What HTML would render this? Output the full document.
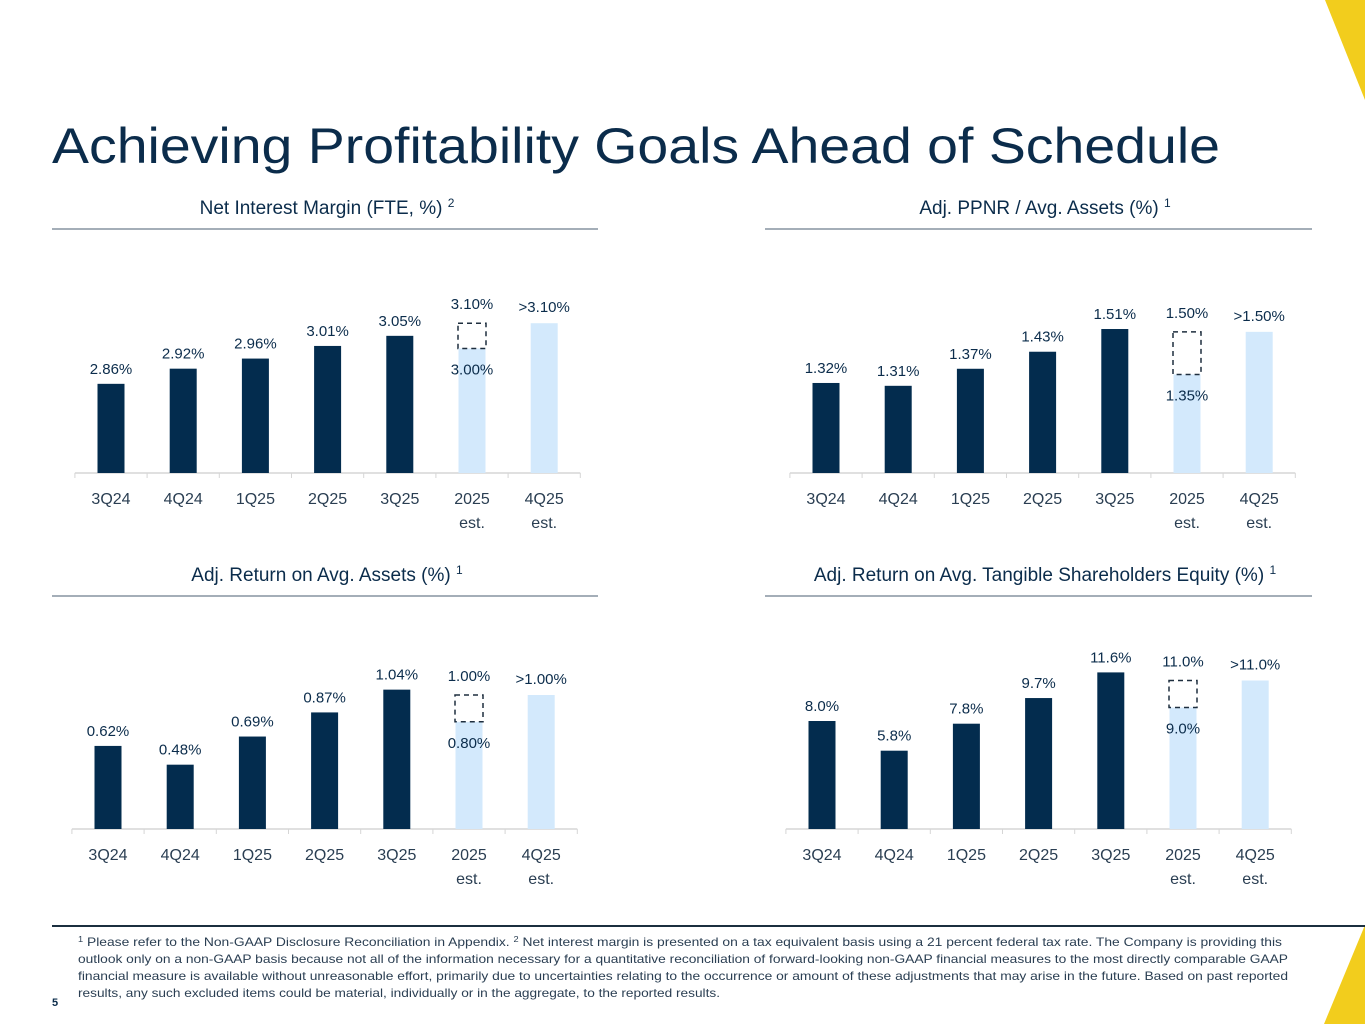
<!DOCTYPE html>
<html><head><meta charset="utf-8"><style>
body{margin:0;background:#fff;}
svg{display:block;font-family:"Liberation Sans",sans-serif;}
</style></head><body>
<svg id="s" width="1365" height="1024" viewBox="0 0 1365 1024" xmlns="http://www.w3.org/2000/svg">
<polygon points="1325,0 1365,0 1365,100" fill="#f2cd1d"/>
<polygon points="1324,1024 1365,1024 1365,925" fill="#f2cd1d"/>
<text x="52" y="163" font-size="50" fill="#0b2c4b" textLength="1168" lengthAdjust="spacingAndGlyphs">Achieving Profitability Goals Ahead of Schedule</text>
<line x1="52" y1="926" x2="1365" y2="926" stroke="#1b2f3f" stroke-width="2"/>
<g font-size="12" fill="#2a3e52">
<text x="78" y="946" textLength="1204" lengthAdjust="spacingAndGlyphs"><tspan font-size="8" dy="-4">1</tspan><tspan dy="4"> Please refer to the Non-GAAP Disclosure Reconciliation in Appendix. </tspan><tspan font-size="8" dy="-4">2</tspan><tspan dy="4"> Net interest margin is presented on a tax equivalent basis using a 21 percent federal tax rate.  The Company is providing this</tspan></text>
<text x="78" y="963" textLength="1210" lengthAdjust="spacingAndGlyphs">outlook only on a non-GAAP basis because not all of the information necessary for a quantitative reconciliation of forward-looking non-GAAP financial measures to the most directly comparable GAAP</text>
<text x="78" y="980" textLength="1210" lengthAdjust="spacingAndGlyphs">financial measure is available without unreasonable effort, primarily due to uncertainties relating to the occurrence or amount of these adjustments that may arise in the future. Based on past reported</text>
<text x="78" y="997" textLength="642" lengthAdjust="spacingAndGlyphs">results, any such excluded items could be material, individually or in the aggregate, to the reported results.</text>
</g>
<text x="52" y="1006" font-size="11" font-weight="bold" fill="#0b2c4b">5</text>
</svg>
<script>
const categories = ["3Q24","4Q24","1Q25","2Q25","3Q25","2025|est.","4Q25|est."];
const nimValues = [2.86,2.92,2.96,3.01,3.05,3.00,3.10];
const nimRangeHigh = 3.10;
const nimLabels = ["2.86%","2.92%","2.96%","3.01%","3.05%","3.00%",">3.10%"];
const nimHighLabel = "3.10%";
const ppnrValues = [1.32,1.31,1.37,1.43,1.51,1.35,1.50];
const ppnrRangeHigh = 1.50;
const ppnrLabels = ["1.32%","1.31%","1.37%","1.43%","1.51%","1.35%",">1.50%"];
const ppnrHighLabel = "1.50%";
const roaValues = [0.62,0.48,0.69,0.87,1.04,0.80,1.00];
const roaRangeHigh = 1.00;
const roaLabels = ["0.62%","0.48%","0.69%","0.87%","1.04%","0.80%",">1.00%"];
const roaHighLabel = "1.00%";
const roteValues = [8.0,5.8,7.8,9.7,11.6,9.0,11.0];
const roteRangeHigh = 11.0;
const roteLabels = ["8.0%","5.8%","7.8%","9.7%","11.6%","9.0%",">11.0%"];
const roteHighLabel = "11.0%";

const NS="http://www.w3.org/2000/svg";
const svg=document.getElementById('s');
function mk(tag,attrs,parent,txt){const e=document.createElementNS(NS,tag);for(const k in attrs)e.setAttribute(k,attrs[k]);if(txt!==undefined)e.textContent=txt;(parent||svg).appendChild(e);return e;}

function chart(cfg){
  const g=mk('g',{});
  
  
  const t=mk('text',{x:cfg.cx,y:cfg.titleY,'font-size':19,fill:'#0b2c4b','text-anchor':'middle'},g);
  
  
  t.textContent=cfg.title+' ';
  mk('tspan',{'font-size':12,dy:-7},t,cfg.note);
  const rule=mk('line',{x1:cfg.rx1,x2:cfg.rx2,y1:cfg.titleY+15,y2:cfg.titleY+15,stroke:'#4a5d70','stroke-width':1},g);
  
  
  const step=72.2, n=categories.length;
  const xc=i=>cfg.x0+i*step;
  const yv=v=>cfg.base-cfg.scale*(v-cfg.min);
  const ax=mk('line',{x1:xc(0)-step/2,x2:xc(n-1)+step/2,y1:cfg.base,y2:cfg.base,stroke:'#d6d6d6','stroke-width':1.5},g);
  
  
  for(let i=0;i<=n;i++){
    const tk=mk('line',{x1:xc(0)-step/2+i*step,x2:xc(0)-step/2+i*step,y1:cfg.base,y2:cfg.base+5,stroke:'#d6d6d6','stroke-width':1},g);
    
    
  }
  cfg.values.forEach((v,i)=>{
    const top=yv(v);
    const b=mk('rect',{x:xc(i)-13.5,y:top,width:27,height:cfg.base-top,fill:i>=5?'#d3e9fc':'#032c4e'},g);
    
    
    let ly=top-10;
    if(i===5){
      const hi=yv(cfg.high);
      const d=mk('rect',{x:xc(i)-14,y:hi,width:28,height:top-hi,fill:'none',stroke:'#1e2e3e','stroke-width':1.5,'stroke-dasharray':'5,4'},g);
      
      
      const hl=mk('text',{x:xc(i),y:hi-14,'font-size':15,fill:'#0b2c4b','text-anchor':'middle'},g,cfg.highLabel);
      
      
      ly=top+26;
    }else if(i===6){ly=top-11;}
    const l=mk('text',{x:xc(i),y:ly,'font-size':15,fill:'#0b2c4b','text-anchor':'middle'},g,cfg.labels[i]);
    
    
    categories[i].split('|').forEach((p,k)=>{
      const c=mk('text',{x:xc(i),y:cfg.base+31+k*24,'font-size':16,fill:'#2a3e52','text-anchor':'middle'},g,p);
      
      
    });
  });
}
chart({name:'nim-chart',title:'Net Interest Margin (FTE, %)',note:'2',cx:327,titleY:214,rx1:52,rx2:598,x0:111,base:473,scale:252.6,min:2.507,values:nimValues,labels:nimLabels,high:nimRangeHigh,highLabel:nimHighLabel});
chart({name:'ppnr-chart',title:'Adj. PPNR / Avg. Assets (%)',note:'1',cx:1045,titleY:214,rx1:765,rx2:1312,x0:826,base:473,scale:284,min:1.003,values:ppnrValues,labels:ppnrLabels,high:ppnrRangeHigh,highLabel:ppnrHighLabel});
chart({name:'roa-chart',title:'Adj. Return on Avg. Assets (%)',note:'1',cx:327,titleY:581,rx1:52,rx2:598,x0:108,base:829,scale:134,min:0,values:roaValues,labels:roaLabels,high:roaRangeHigh,highLabel:roaHighLabel});
chart({name:'rote-chart',title:'Adj. Return on Avg. Tangible Shareholders Equity (%)',note:'1',cx:1045,titleY:581,rx1:765,rx2:1312,x0:822,base:829,scale:13.5,min:0,values:roteValues,labels:roteLabels,high:roteRangeHigh,highLabel:roteHighLabel});
</script>
</body></html>
